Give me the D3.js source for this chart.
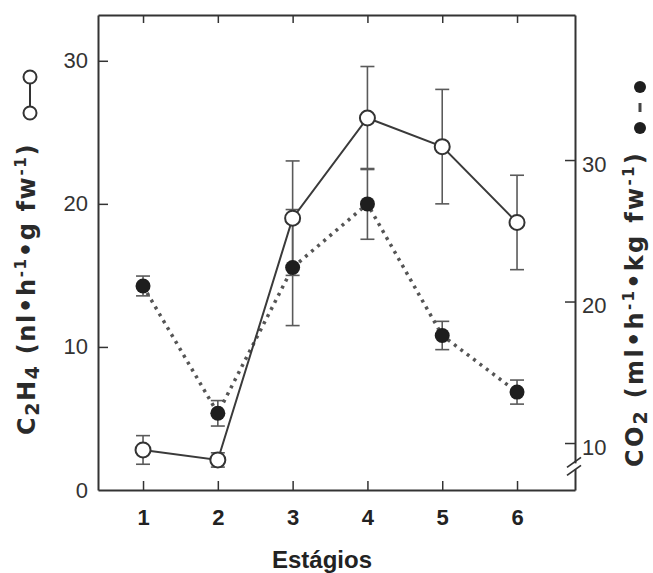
<!DOCTYPE html>
<html>
<head>
<meta charset="utf-8">
<script src="https://cdn.jsdelivr.net/npm/d3@7"></script>
<style>
  html, body { margin: 0; padding: 0; background: #fff; }
  svg { display: block; }
  .axis path, .axis line { stroke: #333; }
</style>
</head>
<body>
<div id="chart"></div>
<script>
// Ripening stages and measured rates (mean ± error)
const stages = [1, 2, 3, 4, 5, 6];
const c2h4 = [2.8, 2.1, 19.0, 26.0, 24.0, 18.7];      // nl·h-1·g fw-1
const c2h4Err = [1.0, 0.5, 4.0, 3.6, 4.0, 3.3];
const co2 = [21.1, 12.1, 22.4, 26.9, 17.6, 13.6];     // ml·h-1·kg fw-1
const co2Err = [0.7, 0.9, 4.1, 2.5, 1.0, 0.85];
const leftTicks = [0, 10, 20, 30];
const rightTicks = [10, 20, 30];

const W = 653, H = 573;
const plot = { left: 98, right: 575, top: 15, bottom: 490 };

const svg = d3.select("#chart").append("svg")
  .attr("width", W).attr("height", H);

const x = d3.scaleLinear().domain([0.398, 6.775]).range([plot.left, plot.right]);
const yL = d3.scaleLinear().domain([0, 33.2]).range([plot.bottom, plot.top]);
const yR = d3.scaleLinear().domain([6.68, 40.25]).range([plot.bottom, plot.top]);

const frameColor = "#333";
const sw = 2;
const font = "'Liberation Sans', Arial, sans-serif";
const titleFont = "'DejaVu Sans', 'Liberation Sans', sans-serif";

// Bottom axis (ticks point inward)
const gx = svg.append("g").attr("class", "axis")
  .attr("transform", `translate(0,${plot.bottom})`)
  .call(d3.axisBottom(x).tickValues(stages).tickFormat(d3.format("d"))
    .tickSizeInner(-9).tickSizeOuter(0).tickPadding(19));
gx.select(".domain").attr("stroke-width", sw);
gx.selectAll(".tick line").attr("stroke-width", 1.5);
gx.selectAll("text").attr("font-family", font)
  .attr("font-size", 22).attr("font-weight", "bold").attr("fill", "#222");

// Top frame line with inward ticks
const gt = svg.append("g").attr("class", "axis")
  .attr("transform", `translate(0,${plot.top})`)
  .call(d3.axisTop(x).tickValues(stages).tickFormat("")
    .tickSizeInner(-8).tickSizeOuter(0));
gt.select(".domain").attr("stroke-width", sw);
gt.selectAll(".tick line").attr("stroke-width", 1.5);

// Left axis: C2H4
const gl = svg.append("g").attr("class", "axis")
  .attr("transform", `translate(${plot.left},0)`)
  .call(d3.axisLeft(yL).tickValues(leftTicks).tickFormat(d3.format("d"))
    .tickSizeInner(-10).tickSizeOuter(0).tickPadding(10));
gl.select(".domain").attr("stroke-width", sw);
gl.selectAll(".tick line").attr("stroke-width", 1.5);
gl.selectAll("text").attr("font-family", font)
  .attr("font-size", 22).attr("fill", "#333");
gl.selectAll(".tick").filter(d => d === 0).select("line").remove();

// Right axis: CO2
const gr = svg.append("g").attr("class", "axis")
  .attr("transform", `translate(${plot.right},0)`)
  .call(d3.axisRight(yR).tickValues(rightTicks).tickFormat(d3.format("d"))
    .tickSizeInner(-10).tickSizeOuter(0).tickPadding(7));
gr.select(".domain").attr("stroke-width", sw);
gr.selectAll(".tick line").attr("stroke-width", 1.5);
gr.selectAll("text").attr("font-family", font)
  .attr("font-size", 22).attr("fill", "#333").attr("dy", "0.5em");

// Axis break on the right axis
const brk = svg.append("g");
const by = yR(8.35);
brk.append("rect").attr("x", plot.right - 3).attr("y", by - 3).attr("width", 6).attr("height", 6).attr("fill", "#fff");
[-4, 4].forEach(o => {
  brk.append("line")
    .attr("x1", plot.right - 8).attr("y1", by + o + 5)
    .attr("x2", plot.right + 6).attr("y2", by + o - 5)
    .attr("stroke", frameColor).attr("stroke-width", 1.8);
});

// Error bars
const errColor = "#5a5a5a";
function errorBars(vals, errs, scale) {
  const g = svg.append("g").attr("stroke", errColor).attr("stroke-width", 1.6);
  stages.forEach((s, i) => {
    const cx = x(s), y1 = scale(vals[i] - errs[i]), y2 = scale(vals[i] + errs[i]);
    g.append("line").attr("x1", cx).attr("x2", cx).attr("y1", y1).attr("y2", y2);
    g.append("line").attr("x1", cx - 7).attr("x2", cx + 7).attr("y1", y1).attr("y2", y1);
    g.append("line").attr("x1", cx - 7).attr("x2", cx + 7).attr("y1", y2).attr("y2", y2);
  });
}
errorBars(co2, co2Err, yR);
errorBars(c2h4, c2h4Err, yL);

// CO2 series: dotted line, filled circles
const lineR = d3.line().x((d, i) => x(stages[i])).y(d => yR(d));
svg.append("path").datum(co2).attr("d", lineR)
  .attr("fill", "none").attr("stroke", "#555").attr("stroke-width", 3.5)
  .attr("stroke-dasharray", "3,5");

// C2H4 series: solid line, open circles
const lineL = d3.line().x((d, i) => x(stages[i])).y(d => yL(d));
svg.append("path").datum(c2h4).attr("d", lineL)
  .attr("fill", "none").attr("stroke", "#3a3a3a").attr("stroke-width", 2);

svg.append("g").selectAll("circle").data(co2).join("circle")
  .attr("cx", (d, i) => x(stages[i])).attr("cy", d => yR(d))
  .attr("r", 7.5).attr("fill", "#1e1e1e");

svg.append("g").selectAll("circle").data(c2h4).join("circle")
  .attr("cx", (d, i) => x(stages[i])).attr("cy", d => yL(d))
  .attr("r", 7.5).attr("fill", "#fff").attr("stroke", "#333").attr("stroke-width", 2);

// Axis titles
svg.append("text")
  .attr("x", 322).attr("y", 568)
  .attr("text-anchor", "middle").attr("font-family", font)
  .attr("font-size", 24).attr("font-weight", "bold").attr("fill", "#222")
  .text("Estágios");

// Rotated title with sub/superscripts; letter spacing chosen so the title spans `len` px
function rotatedTitle(cx, cy, parts, len) {
  const t = svg.append("text")
    .attr("transform", `translate(${cx},${cy}) rotate(-90)`)
    .attr("text-anchor", "middle").attr("font-family", titleFont)
    .attr("font-size", 24).attr("font-weight", "bold").attr("fill", "#2a2a2a");
  parts.forEach(p => {
    const s = t.append("tspan").text(p.t);
    if (p.sub) s.attr("font-size", 19).attr("dy", 4);
    if (p.sup) s.attr("font-size", 15).attr("dy", -9);
    if (p.back) s.attr("dy", p.back);
  });
  const natural = t.node().getComputedTextLength();
  const n = parts.reduce((a, p) => a + p.t.length, 0);
  const ls = Math.max(0, (len - natural) / n);
  t.attr("letter-spacing", ls.toFixed(2));
  return t;
}

rotatedTitle(35, 289, [
  { t: "C" }, { t: "2", sub: true }, { t: "H", back: -4 }, { t: "4", sub: true },
  { t: " (nl•h", back: -4 }, { t: "-1", sup: true }, { t: "•g fw", back: 9 },
  { t: "-1", sup: true }, { t: ")", back: 9 }
], 292);

rotatedTitle(643, 309, [
  { t: "CO" }, { t: "2", sub: true },
  { t: " (ml•h", back: -4 }, { t: "-1", sup: true }, { t: "•kg fw", back: 9 },
  { t: "-1", sup: true }, { t: ")", back: 9 }
], 316);

// Legend keys next to the titles
const keyL = svg.append("g");
keyL.append("line").attr("x1", 30).attr("x2", 30).attr("y1", 77).attr("y2", 113)
  .attr("stroke", "#333").attr("stroke-width", 2);
[77, 113].forEach(cy => keyL.append("circle").attr("cx", 30).attr("cy", cy).attr("r", 6.5)
  .attr("fill", "#fff").attr("stroke", "#333").attr("stroke-width", 2));

const keyR = svg.append("g");
keyR.append("line").attr("x1", 640).attr("x2", 640).attr("y1", 103).attr("y2", 112)
  .attr("stroke", "#444").attr("stroke-width", 3);
[87, 128].forEach(cy => keyR.append("circle").attr("cx", 640).attr("cy", cy).attr("r", 6)
  .attr("fill", "#1e1e1e"));
</script>
</body>
</html>
